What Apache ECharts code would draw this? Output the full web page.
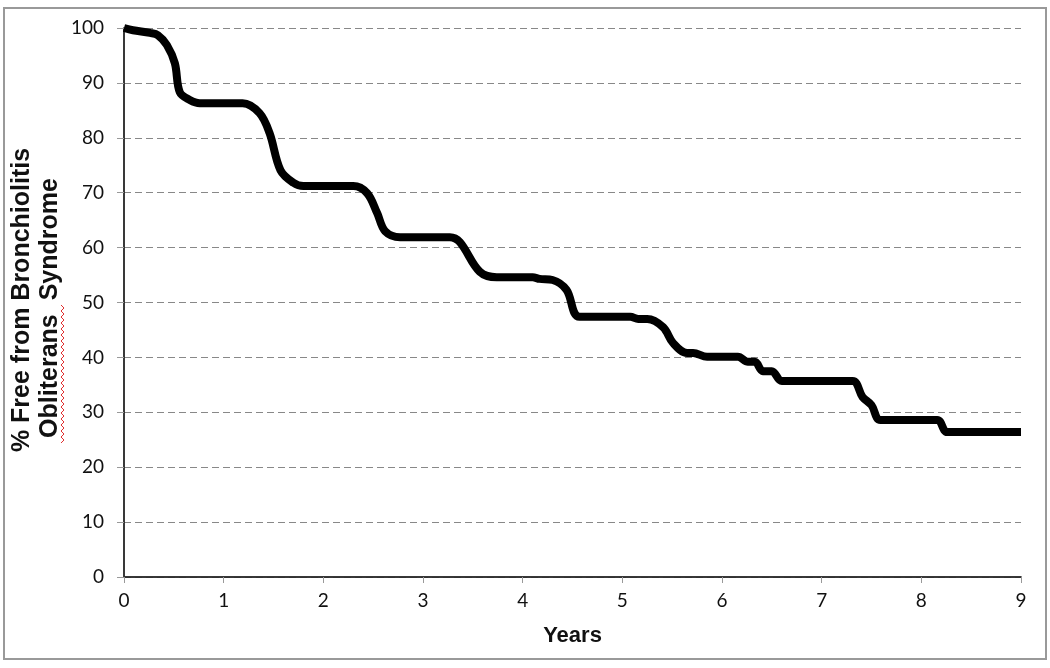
<!DOCTYPE html>
<html>
<head>
<meta charset="utf-8">
<script src="https://cdn.jsdelivr.net/npm/echarts@6/dist/echarts.min.js"></script>
<style>
  html, body { margin: 0; padding: 0; background: #fff; }
  #chart { width: 1050px; height: 668px; }
</style>
</head>
<body>
<div id="chart"></div>
<script>
// values
const years = [0, 0.09, 0.26, 0.34, 0.43, 0.51, 0.56, 0.66, 0.76, 1.19, 1.36, 1.46, 1.57, 1.70, 1.80,
  2.30, 2.44, 2.54, 2.62, 2.77, 3.27, 3.37, 3.57, 3.74, 4.10, 4.17, 4.30, 4.44, 4.57,
  5.08, 5.16, 5.25, 5.41, 5.51, 5.65, 5.71, 5.85, 6.16, 6.26, 6.33, 6.41, 6.50, 6.60,
  7.31, 7.41, 7.50, 7.59, 8.16, 8.26, 9];
const freePct = [100, 99.6, 99.1, 98.7, 96.9, 93.6, 88.3, 86.9, 86.3, 86.3, 84.5, 80.9, 74.1, 71.8, 71.2,
  71.2, 69.9, 66.3, 63.0, 61.9, 61.9, 61.0, 55.6, 54.6, 54.6, 54.3, 54.1, 52.3, 47.4,
  47.4, 47.0, 47.0, 45.5, 42.6, 40.8, 40.8, 40.1, 40.1, 39.2, 39.2, 37.5, 37.5, 35.7,
  35.7, 32.8, 31.3, 28.6, 28.6, 26.4, 26.4];
const xTicks = [0, 1, 2, 3, 4, 5, 6, 7, 8, 9];
const yTicks = [0, 10, 20, 30, 40, 50, 60, 70, 80, 90, 100];

const chart = echarts.init(document.getElementById('chart'));

const tickFont = { fontFamily: 'Lato', fontSize: 19, color: '#111' };
const titleFont = 'bold 25px "Liberation Sans", Arial, sans-serif';

// red spell-check squiggle under "Obliterans"
const squiggle = [];
for (let i = 0; i <= 46; i++) {
  squiggle.push([i % 2 === 0 ? 61 : 64, 443 - i * 3]);
}

chart.setOption({
  animation: false,
  backgroundColor: '#fff',
  grid: {
    left: 124,
    right: 29,
    top: 28,
    bottom: 91,
  },
  xAxis: [{
    type: 'value',
    min: 0,
    max: 9,
    interval: 1,
    axisLine: { lineStyle: { color: '#999', width: 1.5 } },
    axisTick: { show: true, length: 6, lineStyle: { color: '#999' } },
    axisLabel: Object.assign({ margin: 14, formatter: v => (xTicks.includes(v) ? String(v) : '') }, tickFont),
    splitLine: { show: false },
    name: 'Years',
    nameLocation: 'middle',
    nameGap: 48,
    nameTextStyle: { fontFamily: '"Liberation Sans", Arial', fontWeight: 'bold', fontSize: 22, color: '#111' },
  }, {
    type: 'value',
    position: 'top',
    min: 0,
    max: 9,
    axisLine: { show: true, lineStyle: { color: '#111', width: 1.5 } },
    axisTick: { show: false },
    axisLabel: { show: false },
    splitLine: { show: false },
  }],
  yAxis: [{
    type: 'value',
    min: 0,
    max: 100,
    interval: 10,
    axisLine: { show: true, lineStyle: { color: '#999', width: 1.5 } },
    axisTick: { show: true, length: 7, lineStyle: { color: '#999' } },
    axisLabel: Object.assign({ margin: 20, formatter: v => (yTicks.includes(v) ? String(v) : '') }, tickFont),
    splitLine: { show: true, lineStyle: { color: '#888', type: [7, 4], width: 1 } },
  }, {
    type: 'value',
    position: 'right',
    min: 0,
    max: 100,
    axisLine: { show: true, lineStyle: { color: '#111', width: 1.5 } },
    axisTick: { show: false },
    axisLabel: { show: false },
    splitLine: { show: false },
  }],
  series: [{
    type: 'line',
    xAxisIndex: 0,
    yAxisIndex: 0,
    data: years.map((y, i) => [y, freePct[i]]),
    showSymbol: false,
    smooth: 0.35,
    lineStyle: { color: '#000', width: 8, cap: 'butt', join: 'round' },
    z: 3,
  }],
  graphic: [
    {
      type: 'rect',
      shape: { x: 4, y: 8, width: 1042, height: 651 },
      style: { fill: null, stroke: '#999', lineWidth: 2 },
      silent: true,
    },
    {
      type: 'text',
      x: 22,
      y: 300,
      rotation: Math.PI / 2,
      style: { text: '% Free from Bronchiolitis', font: titleFont, fill: '#111', align: 'center', verticalAlign: 'middle' },
    },
    {
      type: 'text',
      x: 50,
      y: 308,
      rotation: Math.PI / 2,
      style: { text: 'Obliterans  Syndrome', font: titleFont, fill: '#111', align: 'center', verticalAlign: 'middle' },
    },
    {
      type: 'polyline',
      shape: { points: squiggle },
      style: { stroke: '#e03030', lineWidth: 1, fill: null },
      silent: true,
    },
  ],
});
</script>
</body>
</html>
